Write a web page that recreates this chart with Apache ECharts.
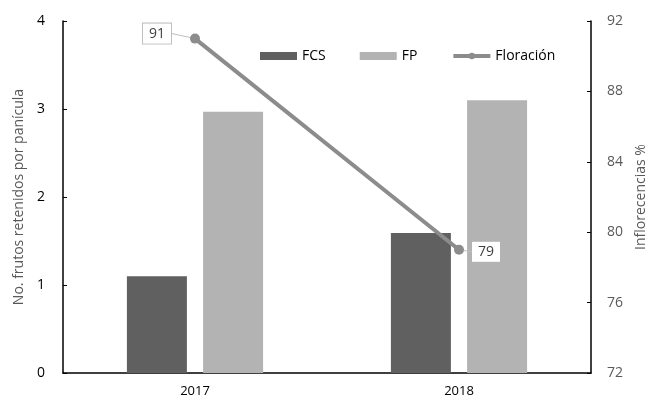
<!DOCTYPE html>
<html>
<head>
<meta charset="utf-8">
<script src="https://cdn.jsdelivr.net/npm/echarts@6/dist/echarts.min.js"></script>
<style>
  html, body { margin: 0; padding: 0; background: #fff; }
  #chart { width: 652px; height: 404px; }
</style>
</head>
<body>
<div id="chart"></div>
<script>
const years = ['2017', '2018'];
const fcs = [1.1, 1.59];
const fp = [2.97, 3.1];
const floracion = [91, 79];

const FONT = 'Open Sans';

const chart = echarts.init(document.getElementById('chart'), null, { renderer: 'canvas' });

chart.setOption({
  animation: false,
  textStyle: { fontFamily: FONT },
  grid: { left: 63, right: 61, top: 21, bottom: 31, outerBoundsMode: 'none' },
  legend: {
    top: 44,
    left: 255,
    itemWidth: 37,
    itemHeight: 8,
    itemGap: 34,
    textStyle: { fontFamily: FONT, fontSize: 14, color: '#000' },
    data: [
      { name: 'FCS', icon: 'rect' },
      { name: 'FP', icon: 'rect' },
      { name: 'Floración', lineStyle: { width: 4 }, itemStyle: { color: '#8c8c8c' } }
    ]
  },
  xAxis: {
    type: 'category',
    data: years,
    axisLine: { lineStyle: { color: '#000', width: 1.5 } },
    axisTick: { show: false },
    axisLabel: { color: '#000', fontSize: 13, margin: 12 }
  },
  yAxis: [
    {
      type: 'value',
      min: 0,
      max: 4,
      interval: 1,
      name: 'No. frutos retenidos por panícula',
      nameLocation: 'middle',
      nameGap: 36,
      nameTextStyle: { color: '#595959', fontSize: 14 },
      axisLine: { show: true, lineStyle: { color: '#000', width: 1.5 } },
      axisTick: { show: true, inside: true, length: 4, lineStyle: { color: '#000' } },
      axisLabel: { color: '#000', fontSize: 14, margin: 18 },
      splitLine: { show: false }
    },
    {
      type: 'value',
      min: 72,
      max: 92,
      interval: 4,
      position: 'right',
      name: 'Inflorecencias %',
      nameLocation: 'middle',
      nameGap: 42,
      nameRotate: 90,
      nameTextStyle: { color: '#595959', fontSize: 14 },
      axisLine: { show: true, lineStyle: { color: '#000', width: 1.5 } },
      axisTick: { show: true, inside: true, length: 4, lineStyle: { color: '#000' } },
      axisLabel: { color: '#595959', fontSize: 14, margin: 16 },
      splitLine: { show: false }
    }
  ],
  series: [
    {
      name: 'FCS',
      type: 'bar',
      data: fcs,
      barWidth: 60,
      barGap: '27%',
      itemStyle: { color: '#606060' }
    },
    {
      name: 'FP',
      type: 'bar',
      data: fp,
      barWidth: 60,
      itemStyle: { color: '#b3b3b3' }
    },
    {
      name: 'Floración',
      type: 'line',
      yAxisIndex: 1,
      data: floracion,
      symbol: 'circle',
      symbolSize: 10,
      lineStyle: { color: '#8c8c8c', width: 4 },
      itemStyle: { color: '#8c8c8c' },
      label: {
        show: true,
        position: 'inside',
        fontSize: 14,
        color: '#404040',
        backgroundColor: '#fff',
        padding: [3, 6]
      },
      labelLine: { show: true, lineStyle: { color: '#bfbfbf', width: 1 } },
      labelLayout: function (params) {
        if (params.dataIndex === 0) {
          return { dx: -38, dy: -5 };
        }
        return { dx: 27, dy: 2 };
      },
      z: 5
    }
  ]
});

// per-point label box styles
chart.setOption({
  series: [{}, {}, {
    data: [
      { value: floracion[0], label: { borderColor: '#bfbfbf', borderWidth: 1 } },
      { value: floracion[1] }
    ]
  }]
});
</script>
</body>
</html>
